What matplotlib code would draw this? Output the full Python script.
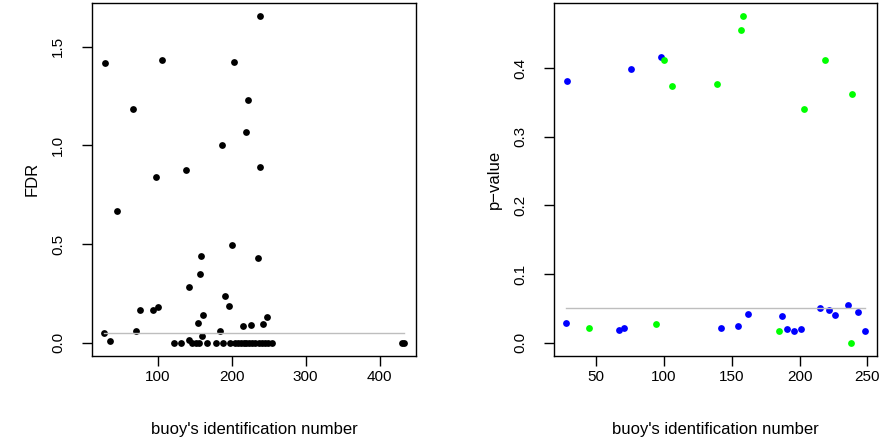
import matplotlib.pyplot as plt

plt.rcParams["font.family"] = ["Liberation Sans", "DejaVu Sans"]

# left panel: FDR per buoy
fdr_ids = [29, 106, 203, 238, 67, 222, 220, 187, 239, 98, 139, 45, 201, 158,
           236, 157, 142, 191, 76, 94, 100, 196, 162, 155, 248, 215, 226, 243,
           28, 71, 185, 36, 143, 160,
           122, 132, 146, 152, 156, 167, 179, 188, 198, 205, 209, 213, 216.5,
           220, 224, 228, 232, 236.5, 241, 245, 249.5, 255, 430, 433]
fdr_values = [1.416, 1.433, 1.423, 1.657, 1.183, 1.232, 1.069, 1.001, 0.892,
              0.841, 0.877, 0.666, 0.494, 0.437, 0.427, 0.349, 0.280, 0.238,
              0.165, 0.167, 0.182, 0.186, 0.138, 0.098, 0.131, 0.084, 0.089,
              0.095, 0.051, 0.061, 0.059, 0.007, 0.015, 0.034,
              0, 0, 0, 0, 0, 0, 0, 0, 0, 0, 0, 0, 0,
              0, 0, 0, 0, 0, 0, 0, 0, 0, 0, 0]

# right panel: p-values, two groups
blue_ids = [28, 67, 71, 142, 155, 162, 187, 191, 196, 201, 215, 222, 226,
            236, 243, 248, 29, 76, 98]
blue_p = [0.028, 0.019, 0.021, 0.021, 0.024, 0.042, 0.039, 0.020, 0.017,
          0.020, 0.050, 0.048, 0.040, 0.055, 0.044, 0.017, 0.381, 0.398, 0.416]
green_ids = [45, 94, 185, 238, 100, 106, 139, 158, 157, 219, 203, 238.5]
green_p = [0.022, 0.027, 0.017, 0.0, 0.412, 0.374, 0.376, 0.476, 0.456,
           0.411, 0.340, 0.362]

threshold = 0.05


def r_limits(values):
    lo, hi = min(values), max(values)
    pad = 0.04 * (hi - lo)
    return lo - pad, hi + pad


def style_axes(ax, ylabel):
    for sp in ax.spines.values():
        sp.set_linewidth(1.0)
    ax.tick_params(direction="out", length=7.5, width=1.0, labelsize=11, pad=3)
    ax.tick_params(axis="y", labelrotation=90, pad=12)
    for lab in ax.get_yticklabels():
        lab.set_va("center")
    ax.set_xlabel("buoy's identification number", fontsize=12, labelpad=27)
    ax.set_ylabel(ylabel, fontsize=12, labelpad=8)


fig = plt.figure(figsize=(8.85, 4.44), dpi=100)

ax1 = fig.add_axes([0.1043, 0.1989, 0.3658, 0.795])
ax1.scatter(fdr_ids, fdr_values, s=24, color="black", linewidths=0, zorder=2)
ax1.plot([min(fdr_ids), max(fdr_ids)], [threshold, threshold],
         color="#bebebe", lw=1.0, zorder=3)
ax1.set_xlim(*r_limits(fdr_ids))
ax1.set_ylim(*r_limits(fdr_values))
ax1.set_xticks([100, 200, 300, 400])
ax1.set_yticks([0.0, 0.5, 1.0, 1.5])
ax1.set_yticklabels(["0.0", "0.5", "1.0", "1.5"])
style_axes(ax1, "FDR")

all_ids = blue_ids + green_ids
all_p = blue_p + green_p
ax2 = fig.add_axes([0.626, 0.1989, 0.3646, 0.795])
ax2.scatter(blue_ids, blue_p, s=24, color="#0000ff", linewidths=0, zorder=2)
ax2.scatter(green_ids, green_p, s=24, color="#00ff00", linewidths=0, zorder=2)
ax2.plot([min(all_ids), max(all_ids)], [threshold, threshold],
         color="#bebebe", lw=1.0, zorder=3)
ax2.set_xlim(*r_limits(all_ids))
ax2.set_ylim(*r_limits(all_p))
ax2.set_xticks([50, 100, 150, 200, 250])
ax2.set_yticks([0.0, 0.1, 0.2, 0.3, 0.4])
ax2.set_yticklabels(["0.0", "0.1", "0.2", "0.3", "0.4"])
style_axes(ax2, "p\u2212value")

fig.savefig("out.png", dpi=100, facecolor="white")
